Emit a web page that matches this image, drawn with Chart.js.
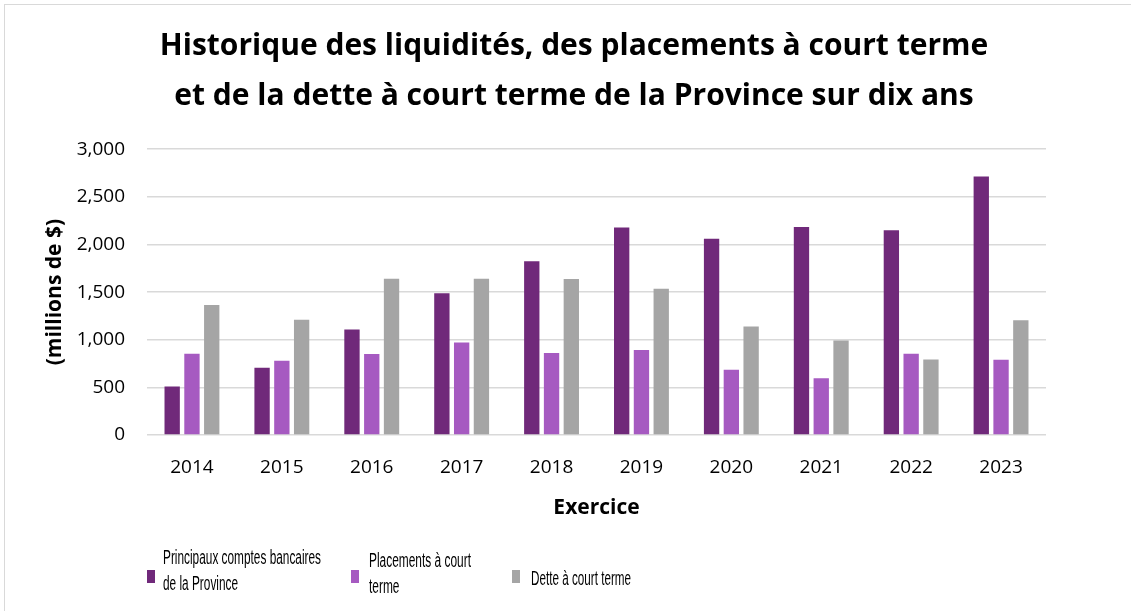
<!DOCTYPE html>
<html lang="fr">
<head>
<meta charset="UTF-8">
<title>Historique des liquidités</title>
<script src="https://cdn.jsdelivr.net/npm/chart.js"></script>
<style>
  html, body { margin: 0; padding: 0; background: #fff; }
  #wrap { position: relative; width: 1131px; height: 611px; overflow: hidden; }
  #frame { position: absolute; left: 4px; top: 4px; width: 1200px; height: 700px; border: 1px solid #d9d9d9; box-sizing: border-box; }
  #chart { position: absolute; left: 0; top: 0; }
  .box { position: absolute; width: 8px; height: 13px; }
  .txt { position: absolute; transform-origin: left center; font-family: "Liberation Sans", Arial, sans-serif; font-size: 20px; line-height: 26px; color: #000; white-space: nowrap; }
</style>
</head>
<body>
<div id="wrap">
  <div id="frame"></div>
  <canvas id="chart" width="1131" height="611"></canvas>
  <div id="legend"></div>
</div>
<script>
const years = ['2014', '2015', '2016', '2017', '2018', '2019', '2020', '2021', '2022', '2023']
const comptes = [509, 705, 1107, 1488, 1823, 2179, 2060, 2183, 2148, 2714]
const placements = [852, 779, 849, 970, 862, 891, 684, 597, 852, 789]
const dette = [1365, 1211, 1641, 1641, 1638, 1536, 1138, 991, 792, 1205]
const yTicks = [0, 500, 1000, 1500, 2000, 2500, 3000]

const seriesNames = [
  ['Principaux comptes bancaires', 'de la Province'],
  ['Placements à court', 'terme'],
  ['Dette à court terme'],
]
const seriesColors = ['#70297a', '#a65ac1', '#a5a5a5']
const titleLines = [
  'Historique des liquidités, des placements à court terme',
  'et de la dette à court terme de la Province sur dix ans',
]

Chart.defaults.font.family = '"Open Sans", Lato, sans-serif'
Chart.defaults.color = '#000'

const makeSet = (i, data) => ({
  label: seriesNames[i].join(' '),
  data,
  backgroundColor: seriesColors[i],
  barPercentage: 0.775,
  categoryPercentage: 0.66,
})

const chart = new Chart(document.getElementById('chart'), {
  type: 'bar',
  data: {
    labels: years,
    datasets: [makeSet(0, comptes), makeSet(1, placements), makeSet(2, dette)],
  },
  options: {
    responsive: false,
    animation: false,
    layout: { padding: { left: 20, right: 3, top: 0, bottom: 86 } },
    plugins: {
      legend: { display: false },
      tooltip: { enabled: false },
      title: {
        display: true,
        text: titleLines,
        font: { size: 30, weight: 'bold', lineHeight: 1.67 },
        padding: { top: 21, bottom: 28 },
      },
    },
    scales: {
      x: {
        grid: { display: false },
        border: { display: false },
        ticks: { font: { size: 19 }, padding: 13 },
        title: { display: true, text: 'Exercice', font: { size: 21, weight: 'bold' }, padding: { top: 0, bottom: 4 } },
        afterFit: (s) => { s.height = 90 },
      },
      y: {
        min: yTicks[0],
        max: yTicks[yTicks.length - 1],
        afterBuildTicks: (s) => { s.ticks = yTicks.map((v) => ({ value: v })) },
        grid: { color: '#d9d9d9', lineWidth: 1.5, drawTicks: false },
        border: { display: false },
        ticks: { font: { size: 19 }, padding: 22, callback: (v) => v.toLocaleString('en-US') },
        title: { display: true, text: '(millions de $)', font: { size: 21, weight: 'bold' }, padding: { top: 22, bottom: 0 } },
        afterFit: (s) => { s.width = 127 },
      },
      spacer: {
        type: 'linear',
        position: 'right',
        grid: { display: false },
        border: { display: false },
        ticks: { display: false },
        afterFit: (s) => { s.width = 82 },
      },
    },
  },
})

// legend in html so the labels can wrap on two lines
const legendPos = [
  { box: 147, text: 163, top: 570, textTop: 544 },
  { box: 351, text: 369, top: 570, textTop: 547 },
  { box: 512, text: 531, top: 570, textTop: 565 },
]
const legendWidths = [158, 102, 100]
const legend = document.getElementById('legend')
const measure = document.createElement('canvas').getContext('2d')
measure.font = '20px "Liberation Sans", Arial, sans-serif'
chart.data.datasets.forEach((ds, i) => {
  const p = legendPos[i]
  const box = document.createElement('div')
  box.className = 'box'
  box.style.left = p.box + 'px'
  box.style.top = p.top + 'px'
  box.style.background = ds.backgroundColor
  legend.appendChild(box)
  const txt = document.createElement('div')
  txt.className = 'txt'
  txt.style.left = p.text + 'px'
  txt.style.top = p.textTop + 'px'
  txt.innerHTML = seriesNames[i].join('<br>')
  legend.appendChild(txt)
  const w = Math.max(...seriesNames[i].map((line) => measure.measureText(line).width))
  txt.style.transform = `scaleX(${legendWidths[i] / w})`
})
</script>
</body>
</html>
